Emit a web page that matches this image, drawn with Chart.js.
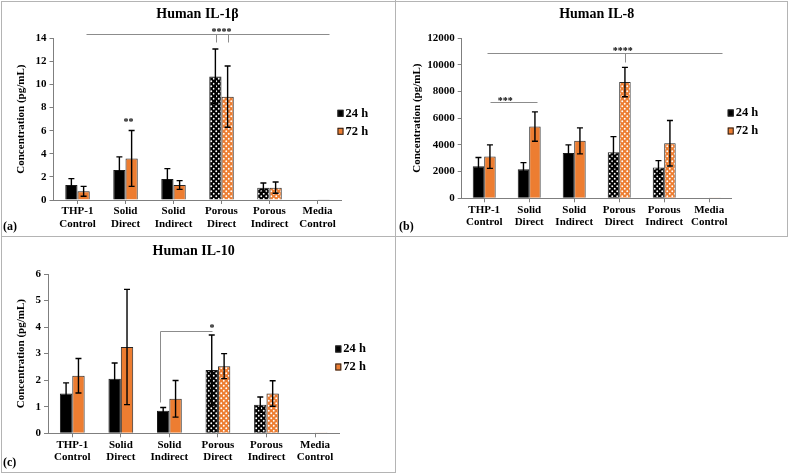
<!DOCTYPE html>
<html>
<head>
<meta charset="utf-8">
<script src="https://cdn.jsdelivr.net/npm/chart.js@4.4.1/dist/chart.umd.min.js"></script>
<style>
  html, body { margin: 0; padding: 0; background: #fff; }
  body { width: 789px; height: 474px; position: relative; overflow: hidden; }
  canvas { position: absolute; }
  .rule { position: absolute; background: #b4b4b4; }
</style>
</head>
<body>
<canvas id="il1b" width="395" height="236" style="left:0;top:0"></canvas>
<canvas id="il8" width="391" height="236" style="left:396px;top:0"></canvas>
<canvas id="il10" width="395" height="235" style="left:0;top:237px"></canvas>

<div class="rule" style="left:1px;top:1px;width:787px;height:1px"></div>
<div class="rule" style="left:1px;top:1px;width:1px;height:472px"></div>
<div class="rule" style="left:395px;top:0;width:1px;height:473px"></div>
<div class="rule" style="left:1px;top:236px;width:787px;height:1px"></div>
<div class="rule" style="left:787px;top:1px;width:1px;height:236px"></div>
<div class="rule" style="left:1px;top:472px;width:395px;height:1px"></div>

<script>
const categories = [['THP-1', 'Control'], ['Solid', 'Direct'], ['Solid', 'Indirect'],
  ['Porous', 'Direct'], ['Porous', 'Indirect'], ['Media', 'Control']];
const seriesLabels = ['24 h', '72 h'];

// IL-1β (pg/mL)
const il1b24 = [1.3, 2.6, 1.82, 10.7, 1.07, 0];
const il1b24Err = [0.55, 1.13, 0.9, 2.37, 0.4, 0];
const il1b72 = [0.75, 3.6, 1.3, 8.95, 1.07, 0.03];
const il1b72Err = [0.43, 2.42, 0.38, 2.65, 0.49, 0];

// IL-8 (pg/mL)
const il824 = [2400, 2170, 3400, 3450, 2300, 0];
const il824Err = [650, 500, 600, 1170, 520, 0];
const il872 = [3120, 5370, 4300, 8700, 4120, 20];
const il872Err = [880, 1100, 975, 1100, 1700, 0];

// IL-10 (pg/mL)
const il1024 = [1.5, 2.05, 0.85, 2.38, 1.08, 0];
const il1024Err = [0.4, 0.6, 0.12, 1.32, 0.29, 0];
const il1072 = [2.17, 3.25, 1.3, 2.53, 1.5, 0.01];
const il1072Err = [0.65, 2.17, 0.69, 0.47, 0.48, 0];

// significance marks, x in category index, y in data units
const il1bSegments = [[0.18, 14.41, 5.24, 14.41], [2.875, 14.41, 2.875, 13.7], [3.125, 14.41, 3.125, 13.7]];
const il1bStars = [[3.0, 14.75, '****'], [1.06, 7.0, '**']];
const il8Segments = [[0.06, 10855, 5.28, 10855], [3.125, 10855, 3.125, 10226], [0.13, 7187, 1.17, 7187]];
const il8Stars = [[3.08, 11200, '****'], [0.47, 7440, '***']];
const il10Segments = [[1.8, 3.86, 2.87, 3.86], [1.8, 3.86, 1.8, 1.19]];
const il10Stars = [[2.88, 4.05, '*']];

const FONT = "'Liberation Serif', 'Times New Roman', serif";
const ORANGE = '#ED7D31';

function dotPattern(base) {
  const c = document.createElement('canvas');
  c.width = 5; c.height = 5;
  const g = c.getContext('2d');
  g.fillStyle = base;
  g.fillRect(0, 0, 5, 5);
  g.fillStyle = '#fff';
  [[1.25, 1.25], [3.75, 3.75]].forEach(([px, py]) => {
    g.beginPath();
    g.arc(px, py, 0.95, 0, Math.PI * 2);
    g.fill();
  });
  return g.createPattern(c, 'repeat');
}

function fills(base) {
  const pat = dotPattern(base);
  return categories.map(c => c[0] === 'Porous' ? pat : base);
}

function extrasPlugin(segments, stars, letter) {
  return {
    id: 'extras',
    afterDatasetsDraw(chart) {
      const { ctx, scales: { x, y } } = chart;
      ctx.save();
      // error bars
      ctx.strokeStyle = '#000';
      ctx.lineWidth = 1.4;
      chart.data.datasets.forEach((ds, di) => {
        chart.getDatasetMeta(di).data.forEach((bar, i) => {
          const e = ds.errors[i];
          if (!e) return;
          const v = ds.data[i];
          const top = y.getPixelForValue(v + e);
          const bot = y.getPixelForValue(Math.max(0, v - e));
          ctx.beginPath();
          ctx.moveTo(bar.x, top); ctx.lineTo(bar.x, bot);
          ctx.moveTo(bar.x - 3, top); ctx.lineTo(bar.x + 3, top);
          ctx.moveTo(bar.x - 3, bot); ctx.lineTo(bar.x + 3, bot);
          ctx.stroke();
        });
      });
      // significance lines
      const xp = v => x.getPixelForValue(0) + v * (x.getPixelForValue(1) - x.getPixelForValue(0));
      ctx.strokeStyle = '#8c8c8c';
      ctx.lineWidth = 1;
      segments.forEach(([x1, y1, x2, y2]) => {
        ctx.beginPath();
        ctx.moveTo(Math.round(xp(x1)) + 0.5, Math.round(y.getPixelForValue(y1)) + 0.5);
        ctx.lineTo(Math.round(xp(x2)) + 0.5, Math.round(y.getPixelForValue(y2)) + 0.5);
        ctx.stroke();
      });
      ctx.fillStyle = '#000';
      ctx.font = 'bold 10px ' + FONT;
      ctx.textAlign = 'center';
      ctx.textBaseline = 'middle';
      stars.forEach(([sx, sy, t]) => ctx.fillText(t, xp(sx), y.getPixelForValue(sy) + 3));
      ctx.restore();
    },
    afterDraw(chart) {
      const { ctx, chartArea } = chart;
      ctx.save();
      ctx.font = 'bold 12.5px ' + FONT;
      ctx.textBaseline = 'middle';
      ctx.textAlign = 'left';
      chart.data.datasets.forEach((ds, di) => {
        const lx = chartArea.right - 4;
        const ly = chartArea.top + 75 + di * 18;
        ctx.fillStyle = ds.legendColor;
        ctx.fillRect(lx, ly - 3.5, 6, 7);
        ctx.strokeStyle = '#222';
        ctx.lineWidth = 1;
        ctx.strokeRect(lx + 0.5, ly - 3, 5, 6);
        ctx.fillStyle = '#000';
        ctx.fillText(ds.label, lx + 8, ly);
      });
      ctx.font = 'bold 12px ' + FONT;
      ctx.fillText(letter, 3, chart.height - 9);
      ctx.restore();
    }
  };
}

function makeChart(id, title, d24, e24, d72, e72, yMax, yStep, segments, stars, letter, area) {
  const canvas = document.getElementById(id);
  const W = canvas.width, H = canvas.height;
  const axisColor = '#7f7f7f';
  const tickFont = { family: FONT, size: 11, weight: 'bold' };
  return new Chart(canvas.getContext('2d'), {
    type: 'bar',
    data: {
      labels: categories,
      datasets: [
        { label: seriesLabels[0], data: d24, errors: e24, backgroundColor: fills('#000'), legendColor: '#000',
          borderColor: '#1a1a1a', borderWidth: 1, barPercentage: 1, categoryPercentage: 0.51 },
        { label: seriesLabels[1], data: d72, errors: e72, backgroundColor: fills(ORANGE), legendColor: ORANGE,
          borderColor: '#262626', borderWidth: 1, barPercentage: 1, categoryPercentage: 0.51 }
      ]
    },
    options: {
      responsive: false,
      animation: false,
      layout: { padding: { left: 0, right: W - area.right, top: 0, bottom: 0 } },
      plugins: {
        legend: { display: false },
        tooltip: { enabled: false },
        title: {
          display: true, text: title, color: '#000', fullSize: false,
          font: { family: FONT, size: 14, weight: 'bold' },
          padding: { top: 5.6, bottom: area.top - 5.6 - 16.8 }
        }
      },
      scales: {
        x: {
          afterFit: s => { s.height = H - area.bottom; },
          grid: { offset: false, drawOnChartArea: false, tickLength: 4, color: axisColor },
          border: { color: axisColor },
          ticks: { color: '#000', font: { ...tickFont, lineHeight: 1.17 }, padding: 1, maxRotation: 0, autoSkip: false }
        },
        y: {
          min: 0, max: yMax,
          afterFit: s => { s.width = area.left; },
          grid: { drawOnChartArea: false, tickLength: 4, color: axisColor },
          border: { color: axisColor },
          ticks: { stepSize: yStep, color: '#000', font: tickFont, padding: 3, format: { useGrouping: false } },
          title: { display: true, text: 'Concentration (pg/mL)', color: '#000',
            font: { family: FONT, size: 11, weight: 'bold' }, padding: { top: 15, bottom: 0 } }
        }
      }
    },
    plugins: [extrasPlugin(segments, stars, letter)]
  });
}

makeChart('il1b', 'Human IL-1β', il1b24, il1b24Err, il1b72, il1b72Err, 14, 2,
  il1bSegments, il1bStars, '(a)', { left: 53.5, right: 341.5, top: 38.3, bottom: 200 });
makeChart('il8', 'Human IL-8', il824, il824Err, il872, il872Err, 12000, 2000,
  il8Segments, il8Stars, '(b)', { left: 65.7, right: 335.7, top: 38, bottom: 198.3 });
makeChart('il10', 'Human IL-10', il1024, il1024Err, il1072, il1072Err, 6, 1,
  il10Segments, il10Stars, '(c)', { left: 48, right: 339.3, top: 37, bottom: 196.3 });
</script>
</body>
</html>
